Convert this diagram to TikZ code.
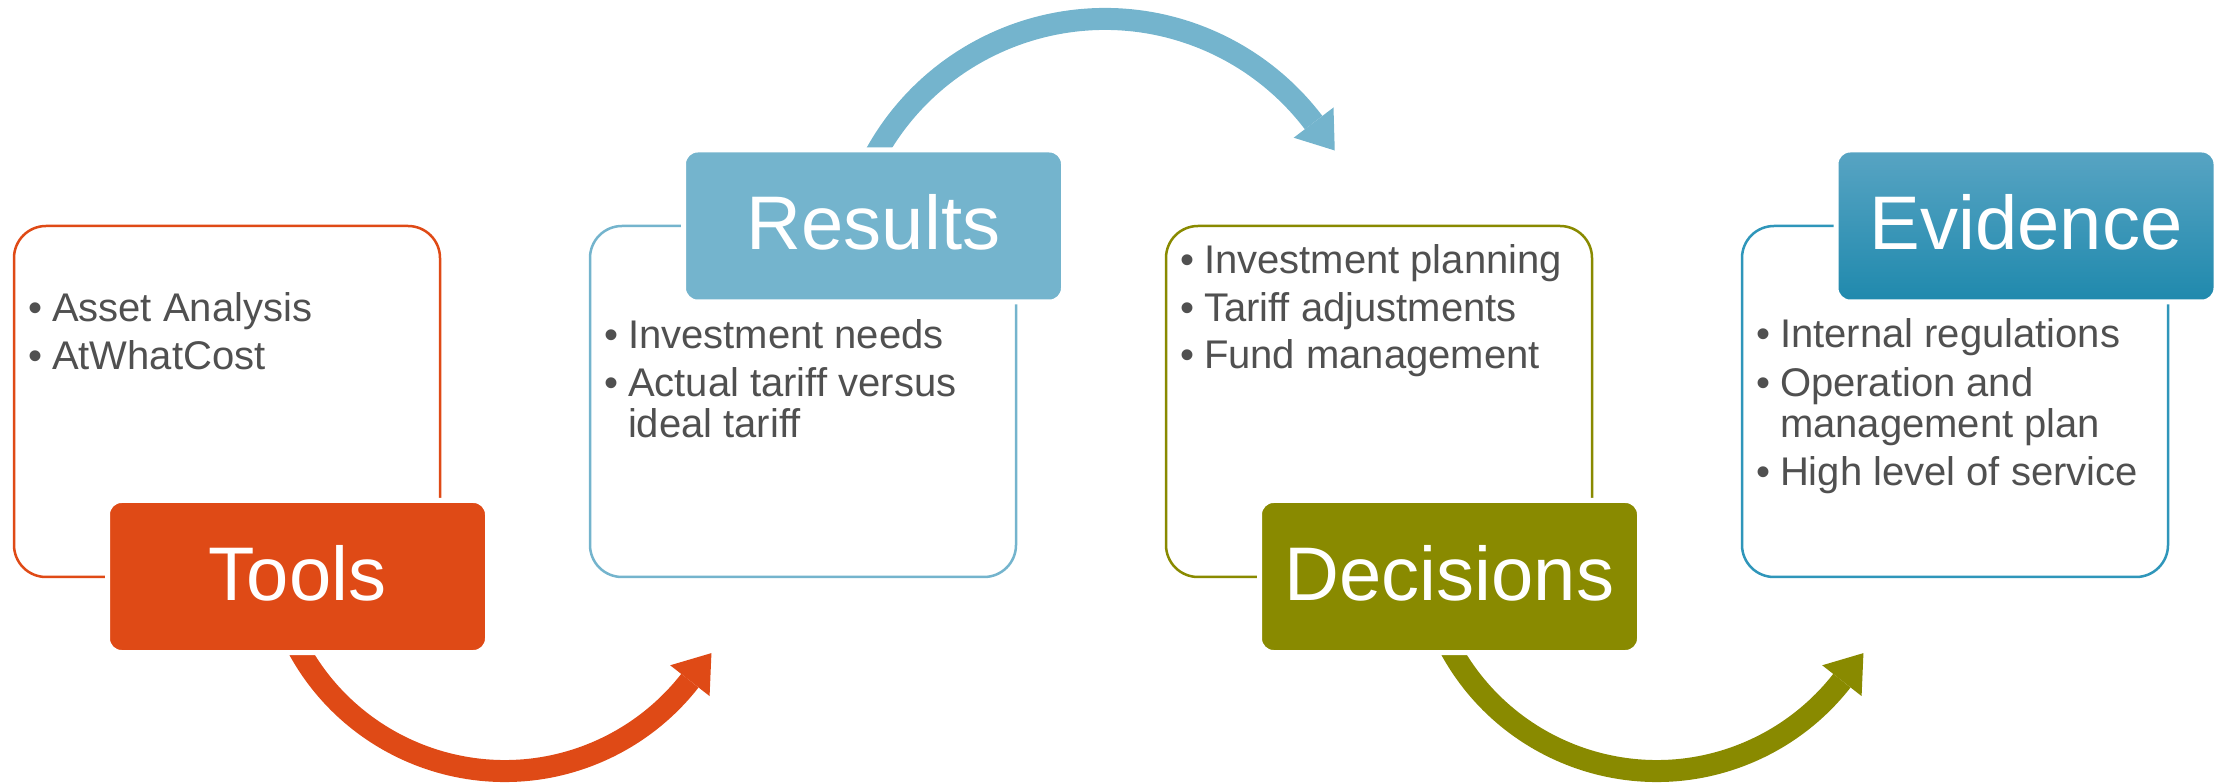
\documentclass[tikz,border=0pt]{standalone}
\usepackage{fontspec}
\setmainfont{Liberation Sans}
\usetikzlibrary{calc}
\definecolor{cOrange}{HTML}{DF4A16}
\definecolor{cLBlue}{HTML}{74B4CD}
\definecolor{cOlive}{HTML}{898A00}
\definecolor{cTeal}{HTML}{2F96BA}
\definecolor{cEvTop}{HTML}{58A4C3}
\definecolor{cEvMid}{HTML}{2A98BD}
\definecolor{cEvBot}{HTML}{1F89AD}
\definecolor{cText}{HTML}{505050}
\begin{document}
\begin{tikzpicture}[x=1pt,y=1pt,
  contentbox/.style={draw, line width=2.5pt, rounded corners=32pt, minimum width=426pt, minimum height=351pt, inner sep=0pt, outer sep=0pt, fill=white},
  labelbox/.style={draw=white, line width=5pt, rounded corners=14pt, minimum width=380pt, minimum height=152pt, inner sep=0pt, outer sep=0pt},
  titletext/.style={text=white, font=\fontsize{76}{80}\selectfont, inner sep=0pt, outer sep=0pt, anchor=base},
  bul/.style={text=cText, font=\fontsize{40}{42}\selectfont, inner sep=0pt, outer sep=0pt, anchor=base},
  itemtext/.style={text=cText, font=\fontsize{40}{42}\selectfont, inner sep=0pt, outer sep=0pt, anchor=base west},
  shaft/.style={line width=22pt},
]
\useasboundingbox (0,0) rectangle (2224,782);

% ---- curved arrows (drawn first, under the boxes)
\coordinate (arcA) at (504.7,246);
\coordinate (arcB) at (1104.9,501);
\coordinate (arcC) at (1656.7,246);

\draw[shaft, cOrange] ($(arcA)+(205:235)$) arc[start angle=205, end angle=322, radius=235];
\coordinate (hA) at ($(arcA)+(322:235)$);
\fill[cOrange] ($(hA)+(322:25)$) -- ($(hA)+(52:35)$) -- ($(hA)+(142:25)$) -- cycle;

\draw[shaft, cLBlue] ($(arcB)+(155:262)$) arc[start angle=155, end angle=37.2, radius=262];
\coordinate (hB) at ($(arcB)+(37.2:262)$);
\fill[cLBlue] ($(hB)+(37.2:25)$) -- ($(hB)+(-52.8:35)$) -- ($(hB)+(217.2:25)$) -- cycle;

\draw[shaft, cOlive] ($(arcC)+(205:235)$) arc[start angle=205, end angle=322, radius=235];
\coordinate (hC) at ($(arcC)+(322:235)$);
\fill[cOlive] ($(hC)+(322:25)$) -- ($(hC)+(52:35)$) -- ($(hC)+(142:25)$) -- cycle;

% ---- content boxes
\node[contentbox, draw=cOrange] (toolsbox) at (227,380.5) {};
\node[contentbox, draw=cLBlue] (resultsbox) at (803,380.5) {};
\node[contentbox, draw=cOlive] (decisionsbox) at (1379,380.5) {};
\node[contentbox, draw=cTeal] (evidencebox) at (1955,380.5) {};

% ---- label boxes
\node[labelbox, fill=cOrange] (tools) at (297.5,205.5) {};
\node[labelbox, fill=cLBlue] (results) at (873.5,556) {};
\node[labelbox, fill=cOlive] (decisions) at (1449.5,205.5) {};
\node[labelbox, top color=cEvTop, middle color=cEvMid, bottom color=cEvBot] (evidence) at (2026,556) {};

\node[titletext] (toolsT) at ($(tools.center)+(0,-24)$) {Tools};
\node[titletext] (resultsT) at ($(results.center)+(0,-24)$) {Results};
\node[titletext] (decisionsT) at ($(decisions.center)+(0,-24)$) {Decisions};
\node[titletext] (evidenceT) at ($(evidence.center)+(0,-24)$) {Evidence};

% ---- Tools items
\node[bul] (tb1) at ($(toolsbox.north west)+(21.5,-96)$) {•};
\node[itemtext] (ti1) at ($(toolsbox.north west)+(38,-96)$) {Asset Analysis};
\node[bul] (tb2) at ($(toolsbox.north west)+(21.5,-144)$) {•};
\node[itemtext] (ti2) at ($(toolsbox.north west)+(38,-144)$) {AtWhatCost};

% ---- Results items
\node[bul] (rb1) at ($(resultsbox.north west)+(21.5,-123)$) {•};
\node[itemtext] (ri1) at ($(resultsbox.north west)+(38,-123)$) {Investment needs};
\node[bul] (rb2) at ($(resultsbox.north west)+(21.5,-171)$) {•};
\node[itemtext] (ri2) at ($(resultsbox.north west)+(38,-171)$) {Actual tariff versus};
\node[itemtext] (ri3) at ($(resultsbox.north west)+(38,-212)$) {ideal tariff};

% ---- Decisions items
\node[bul] (db1) at ($(decisionsbox.north west)+(21.5,-48)$) {•};
\node[itemtext] (di1) at ($(decisionsbox.north west)+(38,-48)$) {Investment planning};
\node[bul] (db2) at ($(decisionsbox.north west)+(21.5,-96)$) {•};
\node[itemtext] (di2) at ($(decisionsbox.north west)+(38,-96)$) {Tariff adjustments};
\node[bul] (db3) at ($(decisionsbox.north west)+(21.5,-143)$) {•};
\node[itemtext] (di3) at ($(decisionsbox.north west)+(38,-143)$) {Fund management};

% ---- Evidence items
\node[bul] (eb1) at ($(evidencebox.north west)+(21.5,-122)$) {•};
\node[itemtext] (ei1) at ($(evidencebox.north west)+(38,-122)$) {Internal regulations};
\node[bul] (eb2) at ($(evidencebox.north west)+(21.5,-171)$) {•};
\node[itemtext] (ei2) at ($(evidencebox.north west)+(38,-171)$) {Operation and};
\node[itemtext] (ei3) at ($(evidencebox.north west)+(38,-212)$) {management plan};
\node[bul] (eb3) at ($(evidencebox.north west)+(21.5,-260)$) {•};
\node[itemtext] (ei4) at ($(evidencebox.north west)+(38,-260)$) {High level of service};
\end{tikzpicture}
\end{document}
